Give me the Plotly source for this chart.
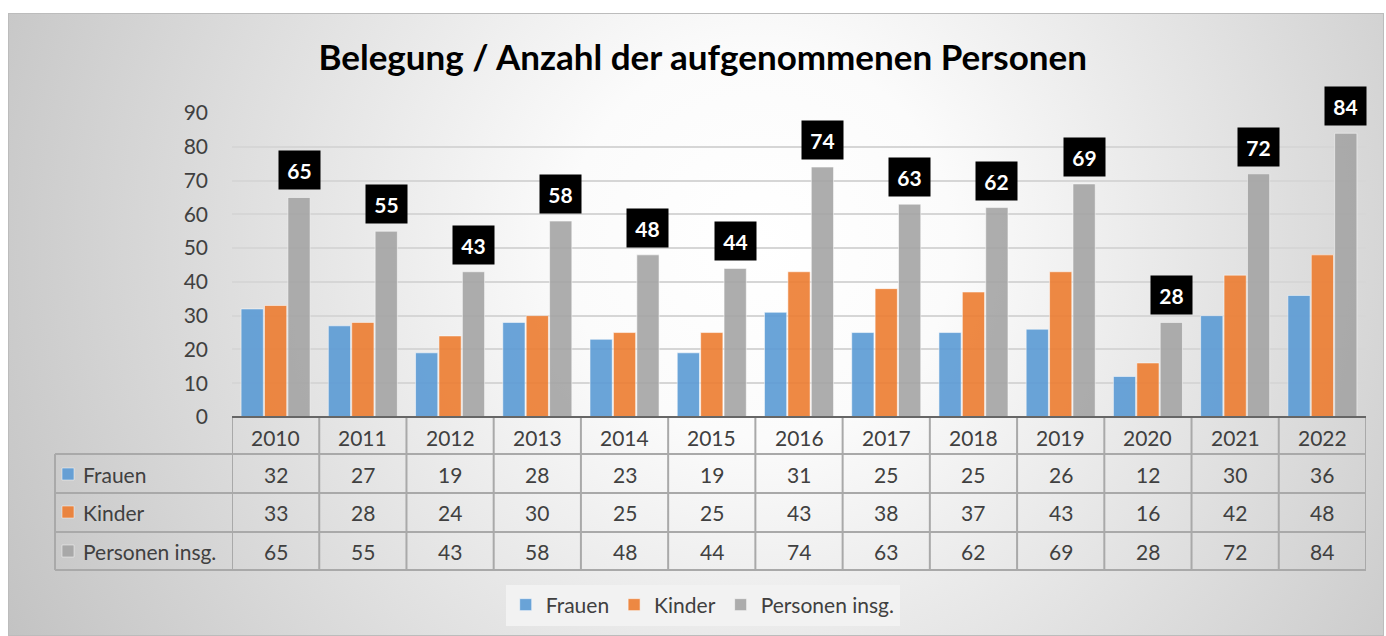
import base64
import plotly.graph_objects as go

years = ["2010", "2011", "2012", "2013", "2014", "2015", "2016", "2017", "2018", "2019", "2020", "2021", "2022"]
frauen = [32, 27, 19, 28, 23, 19, 31, 25, 25, 26, 12, 30, 36]
kinder = [33, 28, 24, 30, 25, 25, 43, 38, 37, 43, 16, 42, 48]
personen = [65, 55, 43, 58, 48, 44, 74, 63, 62, 69, 28, 72, 84]
series_names = ["Frauen", "Kinder", "Personen insg."]
series_values = [frauen, kinder, personen]
colors = ["#5B9BD5", "#ED7D31", "#A5A5A5"]
y_ticks = [0, 10, 20, 30, 40, 50, 60, 70, 80, 90]

W, H = 1386, 636
PL, PR, PT, PB = 232, 1366, 113, 417  # plot area in pixels
FONT = "Lato"
TXT = "#404040"
FS = 21


def px_x(px):
    return (px - PL) / (PR - PL)


def px_y(py):
    return (PB - py) / (PB - PT)


fig = go.Figure()
for name, vals, col in zip(series_names, series_values, colors):
    fig.add_trace(go.Bar(
        x=years, y=vals, name=name, opacity=0.9,
        marker=dict(color=col, line=dict(color="rgba(255,255,255,0.55)", width=1)),
    ))

# background gradient
svg = ('<svg xmlns="http://www.w3.org/2000/svg" width="1376" height="623">'
       '<defs><radialGradient id="g" gradientUnits="userSpaceOnUse" cx="752" cy="230" r="880">'
       '<stop offset="0" stop-color="#ffffff"/><stop offset="0.22" stop-color="#fbfbfb"/>'
       '<stop offset="1" stop-color="#c0c0c0"/>'
       '</radialGradient></defs>'
       '<rect x="0.5" y="0.5" width="1375" height="622" fill="url(#g)" stroke="#bcbcbc" stroke-width="1"/></svg>')
src = "data:image/svg+xml;base64," + base64.b64encode(svg.encode()).decode()
images = [dict(source=src, xref="paper", yref="paper", x=px_x(8), y=px_y(13),
               sizex=(1384 - 8) / (PR - PL), sizey=(636 - 13) / (PB - PT),
               xanchor="left", yanchor="top", sizing="stretch", layer="below")]

annotations = []
# data labels above total bars
for i, v in enumerate(personen):
    annotations.append(dict(x=i, y=v, xref="x", yref="y", text="<b>%d</b>" % v,
                            showarrow=False, xshift=23.4, yshift=7, yanchor="bottom",
                            xanchor="center",
                            bgcolor="#000000", width=41, height=38, borderpad=0,
                            font=dict(family=FONT, size=21, color="white")))

# data table
row_centers = [437, 474, 512, 551]
for i, yr in enumerate(years):
    annotations.append(dict(x=i, y=px_y(row_centers[0]), xref="x", yref="paper", text=yr,
                            showarrow=False, xanchor="center", yanchor="middle",
                            font=dict(family=FONT, size=FS, color=TXT)))
for r, vals in enumerate(series_values):
    for i, v in enumerate(vals):
        annotations.append(dict(x=i, y=px_y(row_centers[r + 1]), xref="x", yref="paper",
                                text=str(v), showarrow=False, xanchor="center", yanchor="middle",
                                font=dict(family=FONT, size=FS, color=TXT)))
    annotations.append(dict(x=px_x(81), y=px_y(row_centers[r + 1]), xref="paper", yref="paper",
                            text=series_names[r], showarrow=False, xanchor="left", yanchor="middle",
                            font=dict(family=FONT, size=FS, color=TXT)))

shapes = []
LINE = "#a9a9a9"
# key squares in table
for r, col in enumerate(colors):
    cy = row_centers[r + 1]
    shapes.append(dict(type="rect", xref="paper", yref="paper",
                       x0=px_x(62), x1=px_x(74), y0=px_y(cy - 6), y1=px_y(cy + 6),
                       fillcolor=col, opacity=0.9, line=dict(color="rgba(255,255,255,0.5)", width=1)))
# horizontal table lines
for py in [454, 493, 532, 570]:
    shapes.append(dict(type="line", xref="paper", yref="paper", x0=px_x(55), x1=1,
                       y0=px_y(py), y1=px_y(py), line=dict(color=LINE, width=2)))
# vertical lines
shapes.append(dict(type="line", xref="paper", yref="paper", x0=px_x(55), x1=px_x(55),
                   y0=px_y(454), y1=px_y(570), line=dict(color=LINE, width=2)))
for i in range(len(years) + 1):
    shapes.append(dict(type="line", xref="x", yref="paper", x0=i - 0.5, x1=i - 0.5,
                       y0=0, y1=px_y(570), line=dict(color=LINE, width=2)))
# axis line
shapes.append(dict(type="line", xref="paper", yref="paper", x0=0, x1=1, y0=0, y1=0,
                   line=dict(color="#666666", width=2)))

fig.update_layout(
    width=W, height=H,
    margin=dict(l=PL, r=W - PR, t=PT, b=H - PB),
    paper_bgcolor="white", plot_bgcolor="rgba(0,0,0,0)",
    barmode="group", bargap=0.195, bargroupgap=0.05,
    title=dict(text="<b>Belegung / Anzahl der aufgenommenen Personen</b>",
               x=0.507, xref="container", xanchor="center",
               y=1 - 58 / H, yref="container", yanchor="middle",
               font=dict(family=FONT, size=35, color="#000000")),
    font=dict(family=FONT, color=TXT),
    xaxis=dict(showticklabels=False, showgrid=False, zeroline=False, ticks="",
               range=[-0.5, len(years) - 0.5]),
    yaxis=dict(range=[0, 90], tickvals=y_ticks, showgrid=True, gridcolor="#d6d6d6",
               gridwidth=1.5, zeroline=False, ticks="", ticklabelstandoff=23,
               tickfont=dict(family=FONT, size=FS, color=TXT)),
    legend=dict(orientation="h", xref="container", yref="container", x=0.507, y=31 / H,
                xanchor="center", yanchor="middle", bgcolor="#f2f2f2",
                font=dict(family=FONT, size=FS, color=TXT)),
    images=images, annotations=annotations, shapes=shapes,
)

fig.write_html("out.html", config={"displayModeBar": False},
               post_script="document.body.style.margin='0';document.body.style.overflow='hidden';")
